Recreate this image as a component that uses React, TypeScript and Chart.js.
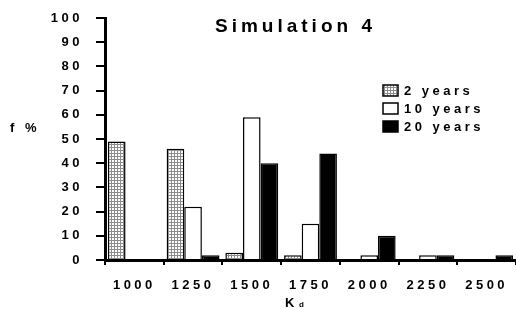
import React, { useEffect, useRef } from "react";
import { Chart, registerables } from "chart.js";

Chart.register(...registerables);

const categories = ["1000", "1250", "1500", "1750", "2000", "2250", "2500"];
const seriesLabels = ["2 years", "10 years", "20 years"];
const years2 = [49, 46, 3, 2, 0, 0, 0];
const years10 = [0, 22, 59, 15, 2, 2, 0];
const years20 = [0, 2, 40, 44, 10, 2, 2];
const yMin = 0;
const yMax = 100;
const yStep = 10;
const titleText = "Simulation 4";
const yTitleText = "f %";
const xTitleMain = "K";
const xTitleSub = "d";

const FONT = "'Liberation Sans', Arial, sans-serif";
const SPACING = "3.5px";

function makeStipple(): CanvasPattern | string {
  const c = document.createElement("canvas");
  c.width = 3;
  c.height = 3;
  const g = c.getContext("2d");
  if (!g) return "#aaa";
  g.fillStyle = "#8c8c8c";
  g.fillRect(0, 0, 3, 3);
  g.fillStyle = "#ffffff";
  g.fillRect(1, 1, 2, 2);
  return g.createPattern(c, "repeat") || "#aaa";
}

export default function App() {
  const ref = useRef<HTMLCanvasElement | null>(null);

  useEffect(() => {
    document.body.style.margin = "0";
    const canvas = ref.current;
    if (!canvas) return;
    const stipple = makeStipple();

    const spacingPlugin = {
      id: "spacing",
      beforeUpdate(chart: any) {
        chart.ctx.letterSpacing = SPACING;
      },
      beforeDraw(chart: any) {
        chart.ctx.letterSpacing = SPACING;
      },
    };

    const decorPlugin = {
      id: "decor",
      afterDraw(chart: any) {
        const ctx = chart.ctx;
        const ca = chart.chartArea;
        ctx.save();
        ctx.fillStyle = "#000";
        // title
        ctx.letterSpacing = "4px";
        ctx.font = `bold 19px ${FONT}`;
        ctx.textAlign = "left";
        ctx.textBaseline = "alphabetic";
        ctx.fillText(titleText, ca.left + 110, 32);
        // y title
        ctx.letterSpacing = SPACING;
        ctx.font = `bold 13px ${FONT}`;
        ctx.fillText(yTitleText, 10, 132);
        // x title with subscript
        ctx.letterSpacing = "0px";
        ctx.font = `bold 13px ${FONT}`;
        ctx.fillText(xTitleMain, 285, 307);
        ctx.font = `bold 8px ${FONT}`;
        ctx.fillText(xTitleSub, 299, 307);
        // legend
        ctx.letterSpacing = SPACING;
        const lx = ca.left + 278;
        const ly0 = 85;
        chart.data.datasets.forEach((ds: any, i: number) => {
          const y = ly0 + i * 18;
          ctx.fillStyle = ds.backgroundColor;
          ctx.fillRect(lx, y, 15, 11);
          ctx.strokeStyle = "#000";
          ctx.lineWidth = 1.5;
          ctx.strokeRect(lx, y, 15, 11);
          ctx.fillStyle = "#000";
          ctx.font = `bold 13px ${FONT}`;
          ctx.textBaseline = "middle";
          ctx.fillText(ds.label, lx + 21, y + 6);
        });
        ctx.restore();
      },
    };

    const chart = new Chart(canvas, {
      type: "bar",
      data: {
        labels: categories,
        datasets: [
          { label: seriesLabels[0], data: years2, backgroundColor: stipple as any, borderColor: "#000", borderWidth: 1.5 },
          { label: seriesLabels[1], data: years10, backgroundColor: "#ffffff", borderColor: "#000", borderWidth: 1.5 },
          { label: seriesLabels[2], data: years20, backgroundColor: "#000000", borderColor: "#000", borderWidth: 1.5 },
        ],
      },
      options: {
        animation: false,
        responsive: false,
        devicePixelRatio: 1,
        layout: { padding: { top: 18, right: 0, bottom: 0, left: 0 } },
        datasets: { bar: { categoryPercentage: 0.9, barPercentage: 1.0 } },
        plugins: {
          legend: { display: false },
          tooltip: { enabled: false },
          title: { display: false },
        },
        scales: {
          x: {
            offset: true,
            grid: {
              offset: true,
              drawOnChartArea: false,
              drawTicks: true,
              tickLength: 5,
              color: "#000",
              lineWidth: 2,
            },
            border: { display: true, color: "#000", width: 3 },
            ticks: {
              color: "#000",
              font: { family: FONT, size: 13, weight: "bold" },
              padding: 13,
              maxRotation: 0,
              autoSkip: false,
            },
            afterFit(scale: any) {
              scale.height = 49;
              scale.paddingLeft = 0;
              scale.paddingRight = 0;
            },
          },
          y: {
            min: yMin,
            max: yMax,
            grid: {
              drawOnChartArea: false,
              drawTicks: true,
              tickLength: 9,
              color: "#000",
              lineWidth: 2,
            },
            border: { display: true, color: "#000", width: 3 },
            ticks: {
              stepSize: yStep,
              color: "#000",
              font: { family: FONT, size: 13, weight: "bold" },
              padding: 13,
            },
            afterFit(scale: any) {
              scale.width = 105;
              scale.paddingTop = 0;
              scale.paddingBottom = 0;
            },
          },
        },
      },
      plugins: [spacingPlugin, decorPlugin],
    });

    return () => chart.destroy();
  }, []);

  return (
    <div style={{ width: 516, height: 309 }}>
      <canvas ref={ref} width={516} height={309} style={{ width: 516, height: 309, display: "block" }} />
    </div>
  );
}
